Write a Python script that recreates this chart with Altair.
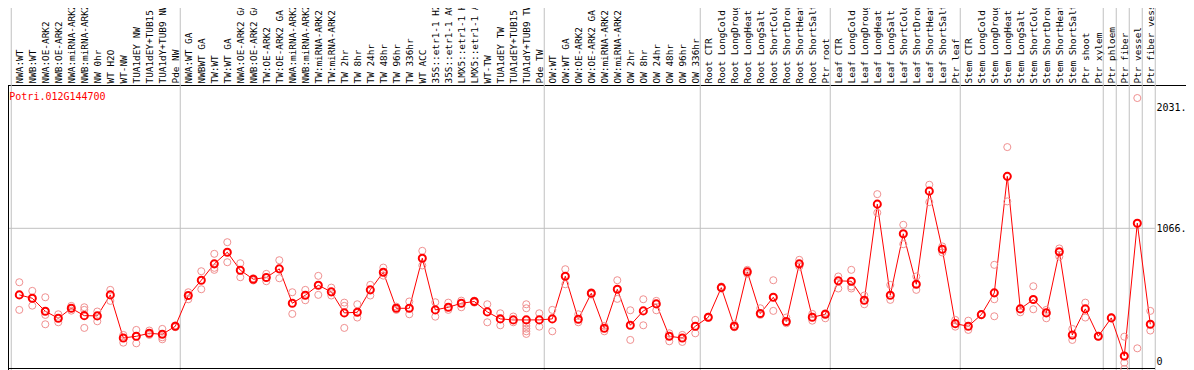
import json
import altair as alt
import pandas as pd

gene = "Potri.012G144700"

labels = [
    "NWA:WT", "NWB:WT", "NWA:OE-ARK2", "NWB:OE-ARK2", "NWA:miRNA-ARK2", "NWB:miRNA-ARK2",
    "NW 0hr", "WT H2O", "WT-NW", "TUA1dEY NW", "TUA1dEY+TUB15 NW", "TUA1dY+TUB9 NW", "Pde NW",
    "NWA:WT GA", "NWBWT GA", "TW:WT", "TW:WT GA", "NWA:OE-ARK2 GA", "NWB:OE-ARK2 GA",
    "TW:OE-ARK2", "TW:OE-ARK2 GA", "NWA:miRNA-ARK2 GA", "NWB:miRNA-ARK2 GA", "TW:miRNA-ARK2",
    "TW:miRNA-ARK2 GA", "TW 2hr", "TW 8hr", "TW 24hr", "TW 48hr", "TW 96hr", "TW 336hr",
    "WT ACC", "35S::etr1-1 H2O", "35S::etr1-1 ACC", "LMX5::etr1-1 H2O", "LMX5::etr1-1 ACC",
    "WT-TW", "TUA1dEY TW", "TUA1dEY+TUB15 TW", "TUA1dY+TUB9 TW", "Pde TW",
    "OW:WT", "OW:WT GA", "OW:OE-ARK2", "OW:OE-ARK2 GA", "OW:miRNA-ARK2", "OW:miRNA-ARK2 GA",
    "OW 2hr", "OW 8hr", "OW 24hr", "OW 48hr", "OW 96hr", "OW 336hr",
    "Root CTR", "Root LongCold", "Root LongDrought", "Root LongHeat", "Root LongSalt",
    "Root ShortCold", "Root ShortDrought", "Root ShortHeat", "Root ShortSalt", "Ptr root",
    "Leaf CTR", "Leaf LongCold", "Leaf LongDrought", "Leaf LongHeat", "Leaf LongSalt",
    "Leaf ShortCold", "Leaf ShortDrought", "Leaf ShortHeat", "Leaf ShortSalt", "Ptr leaf",
    "Stem CTR", "Stem LongCold", "Stem LongDrought", "Stem LongHeat", "Stem LongSalt",
    "Stem ShortCold", "Stem ShortDrought", "Stem ShortHeat", "Stem ShortSalt", "Ptr shoot",
    "Ptr xylem", "Ptr phloem", "Ptr fiber", "Ptr vessel", "Ptr fiber vessel",
]

means = [
    534, 507, 403, 347, 427, 368, 366, 534, 190, 203, 227, 219, 283,
    529, 651, 782, 875, 731, 659, 673, 742, 467, 531, 611, 558, 390, 395, 574, 715, 427,
    427, 827, 414, 435, 467, 481, 398, 342, 334, 334, 334,
    342, 683, 339, 547, 267, 579, 291, 406, 462, 203, 190, 283,
    355, 592, 283, 718, 385, 515, 321, 782, 355, 379,
    646, 643, 491, 1259, 531, 1022, 619, 1363, 899, 304,
    283, 376, 550, 1481, 422, 497, 390, 878, 214, 422, 203,
    350, 46, 1107, 299,
]

replicates = [
    [635, 534, 414], [566, 507, 448], [515, 374, 299], [379, 315], [446, 408],
    [435, 414, 270], [401, 323], [574, 486], [214, 152], [254, 147], [249, 214],
    [262, 195, 179], [290, 276],
    [555, 499], [723, 579], [862, 750, 734], [955, 795], [787, 675], [667, 649],
    [702, 643], [811, 667], [555, 382], [574, 491], [686, 534], [592, 529],
    [472, 446, 270], [459, 353], [614, 529], [752, 688], [440, 414],
    [481, 379], [886, 769], [475, 360], [472, 414], [488, 435], [488, 472],
    [459, 315], [387, 291], [361, 315], [459, 427, 307, 286, 264, 243, 222], [387, 280],
    [414, 243], [739, 619], [379, 315], [555, 537], [286, 243], [651, 502],
    [411, 174], [499, 291], [486, 411], [227, 163], [214, 158], [334, 227],
    [360, 350], [601, 585], [297, 275], [734, 702], [427, 374], [651, 406],
    [353, 307], [814, 761], [382, 328], [387, 347],
    [681, 585], [734, 601, 585], [529, 459], [1339, 1190], [614, 494], [1094, 939],
    [681, 574], [1414, 1275], [921, 873], [334, 280],
    [328, 254], [380, 372], [774, 499, 363], [1715, 1281], [422, 395], [603, 419],
    [414, 347], [905, 840], [262, 174], [472, 353], [206, 200],
    [353, 347], [200, -8, -58], [2107, 107], [406, 249],
]

group_ends = [-1, 12, 40, 52, 62, 72, 83, 84, 85, 86, 87]
y_ticks = [0, 1066, 2031]
y_tick_text = ["0", "1066.", "2031."]
grid_values = [1066]

W, H = 1178, 362
X_DOM = [-0.869, 89.746]
Y_DOM = [-66.3, 2826.4]
RED = "#ff0000"
PINK = "#f09090"
GRAY = "#c0c0c0"
FONT = "DejaVu Sans Mono"

mean_df = pd.DataFrame({"i": list(range(len(means))), "v": means})
rep_df = pd.DataFrame([{"i": i, "v": v} for i, rs in enumerate(replicates) for v in rs])
sep_df = pd.DataFrame({"i": [g + 0.38 for g in group_ends]})
grid_df = pd.DataFrame({"v": grid_values})

xs = alt.Scale(domain=X_DOM, nice=False, zero=False)
ys = alt.Scale(domain=Y_DOM, nice=False, zero=False)

x_label_expr = json.dumps(labels) + "[datum.value]"
y_label_expr = json.dumps(y_tick_text) + "[indexof(" + json.dumps(y_ticks) + ", datum.value)]"

x_axis = alt.Axis(
    orient="top", offset=-77, values=list(range(len(labels))), labelExpr=x_label_expr,
    labelAngle=-90, labelAlign="left", labelBaseline="middle", labelPadding=2,
    ticks=False, grid=False, domain=True, domainColor="black", domainWidth=1,
    labelFont=FONT, labelFontSize=9.4, labelColor="black", labelOverlap=False,
    labelFlush=False, labelBound=False, title=None, labelLimit=400,
)
y_axis = alt.Axis(
    orient="right", offset=-31, values=y_ticks, labelExpr=y_label_expr,
    ticks=False, grid=False, domain=False, labelPadding=1,
    labelFont=FONT, labelFontSize=10, labelColor="black", labelOverlap=False,
    labelFlush=False, title=None,
)

X = alt.X("i:Q", scale=xs, axis=x_axis)
Y = alt.Y("v:Q", scale=ys, axis=y_axis)

seps = alt.Chart(sep_df).mark_rule(color=GRAY, strokeWidth=1).encode(
    x=X, y=alt.value(0), y2=alt.value(H)
)
grid = alt.Chart(grid_df).mark_rule(color=GRAY, strokeWidth=1).encode(
    y=Y, x=alt.value(0), x2=alt.value(1147)
)
left_border = alt.Chart(grid_df).mark_rule(color="black", strokeWidth=1).encode(
    x=alt.value(0.5), y=alt.value(77), y2=alt.value(H)
)
bottom_border = alt.Chart(grid_df).mark_rule(color="black", strokeWidth=1).encode(
    y=alt.value(360.5), x=alt.value(0), x2=alt.value(1147)
)

line = alt.Chart(mean_df).mark_line(color=RED, strokeWidth=1).encode(x=X, y=Y)
reps = alt.Chart(rep_df).mark_point(
    shape="circle", filled=False, size=50, color=PINK, strokeWidth=1, opacity=1
).encode(x=X, y=Y)
pts = alt.Chart(mean_df).mark_point(
    shape="circle", filled=False, size=50, color=RED, strokeWidth=2, opacity=1
).encode(x=X, y=Y)
title = alt.Chart(grid_df).mark_text(
    text=gene, color=RED, font=FONT, fontSize=10, align="left", baseline="alphabetic"
).encode(x=alt.value(1.3), y=alt.value(91.5))

chart = alt.layer(seps, grid, left_border, bottom_border, line, reps, pts, title).properties(
    width=W, height=H, autosize=alt.AutoSizeParams(type="none"), padding=0
).configure_view(strokeWidth=0)

chart.save("out.html", embed_options={"renderer": "svg", "actions": False})
